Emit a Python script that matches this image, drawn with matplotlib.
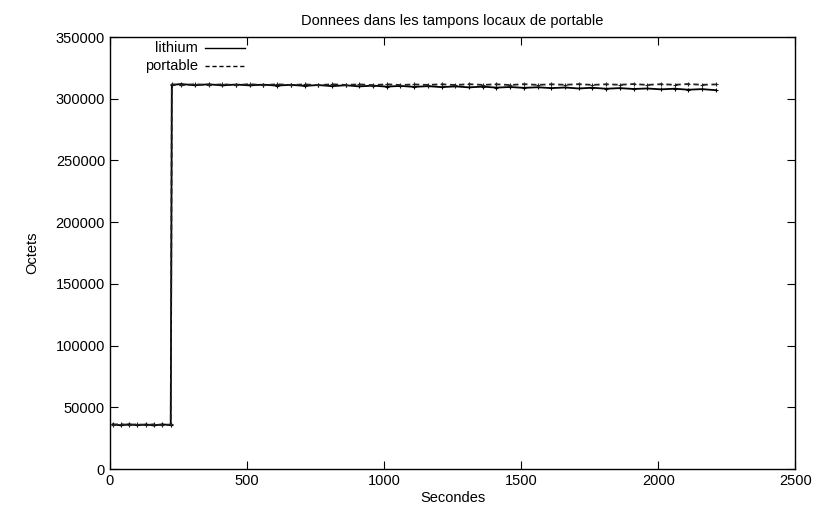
import matplotlib
matplotlib.use('Agg')
import matplotlib.pyplot as plt
from matplotlib.lines import Line2D

plt.rcParams['font.family'] = ['Liberation Sans', 'DejaVu Sans']

# temps (secondes)
t_bas = [10, 40, 70, 100, 130, 160, 190, 222]
t_haut = [226, 260, 310, 360, 410, 460, 510, 560, 610, 660, 710, 760, 810,
          860, 910, 960, 1010, 1060, 1110, 1160, 1210, 1260, 1310, 1360,
          1410, 1460, 1510, 1560, 1610, 1660, 1710, 1760, 1810, 1860, 1910,
          1960, 2010, 2060, 2110, 2160, 2210]

lithium_bas = [36200, 35400, 36300, 35500, 36100, 35300, 36200, 35600]
lithium_haut = [311200, 311900, 310900, 311700, 310800, 311500, 310800, 311400,
                310600, 311300, 310400, 311100, 310200, 310900, 310000, 310600,
                309800, 310400, 309600, 310200, 309400, 310000, 309200, 309800,
                309000, 309500, 308800, 309300, 308600, 309100, 308300, 308900,
                308100, 308600, 307900, 308300, 307600, 308100, 307300, 307800,
                306900]

portable_bas = [35800, 36400, 35500, 36300, 35600, 36200, 35500, 36100]
portable_haut = [311600, 310900, 311800, 311000, 311700, 311100, 311800, 311000,
                 311700, 311100, 311600, 311000, 311700, 311200, 311600, 311000,
                 311700, 311100, 311600, 311200, 311700, 311100, 311800, 311200,
                 311700, 311100, 311800, 311200, 311700, 311300, 311800, 311200,
                 311700, 311300, 311900, 311200, 311800, 311300, 311900, 311300,
                 311600]

t = t_bas + t_haut
lithium = lithium_bas + lithium_haut
portable = portable_bas + portable_haut

fig = plt.figure(figsize=(8.14, 5.14), dpi=100)
ax = fig.add_axes([0.135, 0.0875, 0.842, 0.8405])

ax.plot(t, lithium, color='black', lw=1.3, ls='-', marker='+', ms=3, mew=0.8,
        label='lithium')
ax.plot(t, portable, color='#222222', lw=1.3, ls=(0, (3, 2)), marker='+', ms=3,
        mew=0.8, label='portable')

ax.set_xlim(0, 2500)
ax.set_ylim(0, 350000)
ax.set_xticks([0, 500, 1000, 1500, 2000, 2500])
ax.set_yticks(range(0, 350001, 50000))
ax.tick_params(direction='in', length=6, top=True, right=True, labelsize=10.5)
for s in ax.spines.values():
    s.set_linewidth(1.0)

ax.set_title('Donnees dans les tampons locaux de portable', fontsize=10.5, pad=9)
ax.set_xlabel('Secondes', fontsize=10.5, labelpad=2)
ax.set_ylabel('Octets', fontsize=10.5, labelpad=12)

# légende façon gnuplot : texte aligné à droite puis l'échantillon de trait
for i, (lab, style) in enumerate([('lithium', '-'), ('portable', (0, (3, 2)))]):
    y = 0.975 - i * 0.042
    ax.text(0.128, y, lab, transform=ax.transAxes, ha='right', va='center', fontsize=10.5)
    ax.add_line(Line2D([0.139, 0.197], [y, y], transform=ax.transAxes,
                       color='black', lw=1.0, ls=style))

fig.savefig('out.png', dpi=100)
